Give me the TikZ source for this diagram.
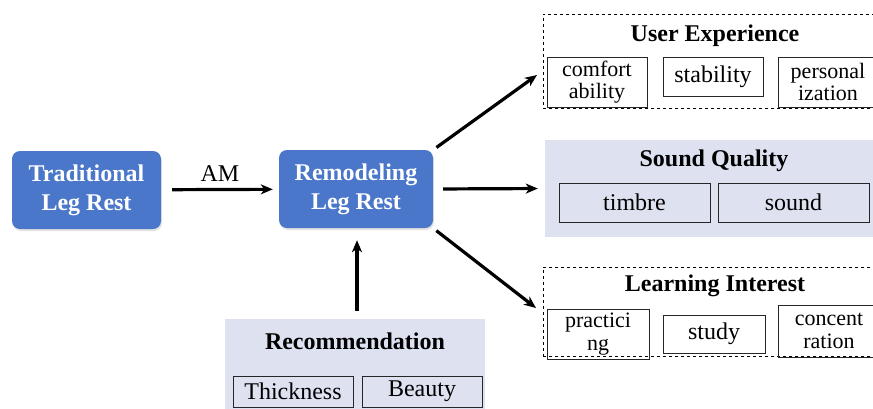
\documentclass[tikz,border=0pt]{standalone}
\usepackage{fontspec}
\setmainfont{Liberation Serif}
\usetikzlibrary{arrows.meta,shadows}

\definecolor{boxblue}{HTML}{4A77C9}
\definecolor{lavender}{HTML}{DDE1F0}

\tikzset{
	mainbox/.style={rectangle, rounded corners=8pt, fill=boxblue, text=white,
		align=center, inner sep=0pt, font=\fontsize{24}{29}\selectfont\bfseries,
		drop shadow={opacity=0.22, shadow xshift=1pt, shadow yshift=-2pt}},
	subbox/.style={rectangle, draw=black!85, line width=0.9pt, align=center,
		inner sep=0pt, font=\fontsize{24}{21}\selectfont},
	twoline/.style={font=\fontsize{22}{22.5}\selectfont},
	dashgroup/.style={rectangle, draw, dashed, line width=0.8pt, inner sep=0pt},
	fillgroup/.style={rectangle, fill=lavender, inner sep=0pt},
	grouptitle/.style={font=\fontsize{24}{28}\selectfont\bfseries, inner sep=0pt},
	flow/.style={-{Stealth[length=12pt,width=10pt,inset=3.5pt]}, line width=3.2pt}
}

\begin{document}
\begin{tikzpicture}[x=1pt,y=-1pt]

	% page size
	\useasboundingbox (0,0) rectangle (873,408);
	\clip (0,0) rectangle (873,408);

	% leg rests
	\node[mainbox, minimum width=149pt, minimum height=78pt] (trad) at (86.5,190) {Traditional\\Leg Rest};
	\node[mainbox, minimum width=154pt, minimum height=78pt] (remod) at (356,189) {Remodeling\\Leg Rest};

	% user experience
	\node[dashgroup, minimum width=344pt, minimum height=94pt] (ux) at (715,61) {};
	\node[grouptitle] (uxt) at (715,36) {User Experience};
	\node[subbox, twoline, minimum width=100pt, minimum height=50pt] (comf) at (597,82) {comfort\\ability};
	\node[subbox, minimum width=100pt, minimum height=39pt] (stab) at (713,76.5) {stability};
	\node[subbox, twoline, minimum width=100pt, minimum height=50pt] (pers) at (828,82) {personal\\ization};

	% sound quality
	\node[fillgroup, minimum width=338pt, minimum height=97pt] (sq) at (714,188.5) {};
	\node[grouptitle] (sqt) at (714,161) {Sound Quality};
	\node[subbox, minimum width=151pt, minimum height=39pt] (timb) at (634.5,202.5) {timbre};
	\node[subbox, minimum width=151pt, minimum height=39pt] (snd) at (793.5,202.5) {sound};

	% learning interest
	\node[dashgroup, minimum width=344pt, minimum height=89pt] (li) at (715,311.5) {};
	\node[grouptitle] (lit) at (715,286) {Learning Interest};
	\node[subbox, twoline, minimum width=102pt, minimum height=50pt] (prac) at (598,334) {practici\\ng};
	\node[subbox, minimum width=102pt, minimum height=38pt] (stud) at (714,334) {study};
	\node[subbox, twoline, minimum width=102pt, minimum height=52pt] (conc) at (829,331) {concent\\ration};

	% recommendation
	\node[fillgroup, minimum width=260pt, minimum height=96pt] (rec) at (355,367) {};
	\node[grouptitle] (rect) at (355,341) {Recommendation};
	\node[subbox, minimum width=120pt, minimum height=31pt] (thick) at (293,391.5) {Thickness};
	\node[subbox, minimum width=120pt, minimum height=31pt] (beau) at (422,391.5) {Beauty};

	% arrow ends
	\coordinate (uxin) at (537,75);
	\coordinate (liin) at (536,308);

	% arrows
	\draw[flow, shorten <=11pt, shorten >=6pt] (trad) -- node[above=6pt, font=\fontsize{24}{28}\selectfont, inner sep=0pt] (am) {AM} (remod);
	\draw[flow, shorten <=4pt] (remod.north east) -- (uxin);
	\draw[flow, shorten <=10pt, shorten >=7pt] (remod.east) -- (sq.west);
	\draw[flow, shorten <=4pt] (remod.south east) -- (liin);
	\draw[flow, shorten <=8pt, shorten >=12pt] ([xshift=2pt]rec.north) -- ([xshift=1pt]remod.south);

\end{tikzpicture}
\end{document}
